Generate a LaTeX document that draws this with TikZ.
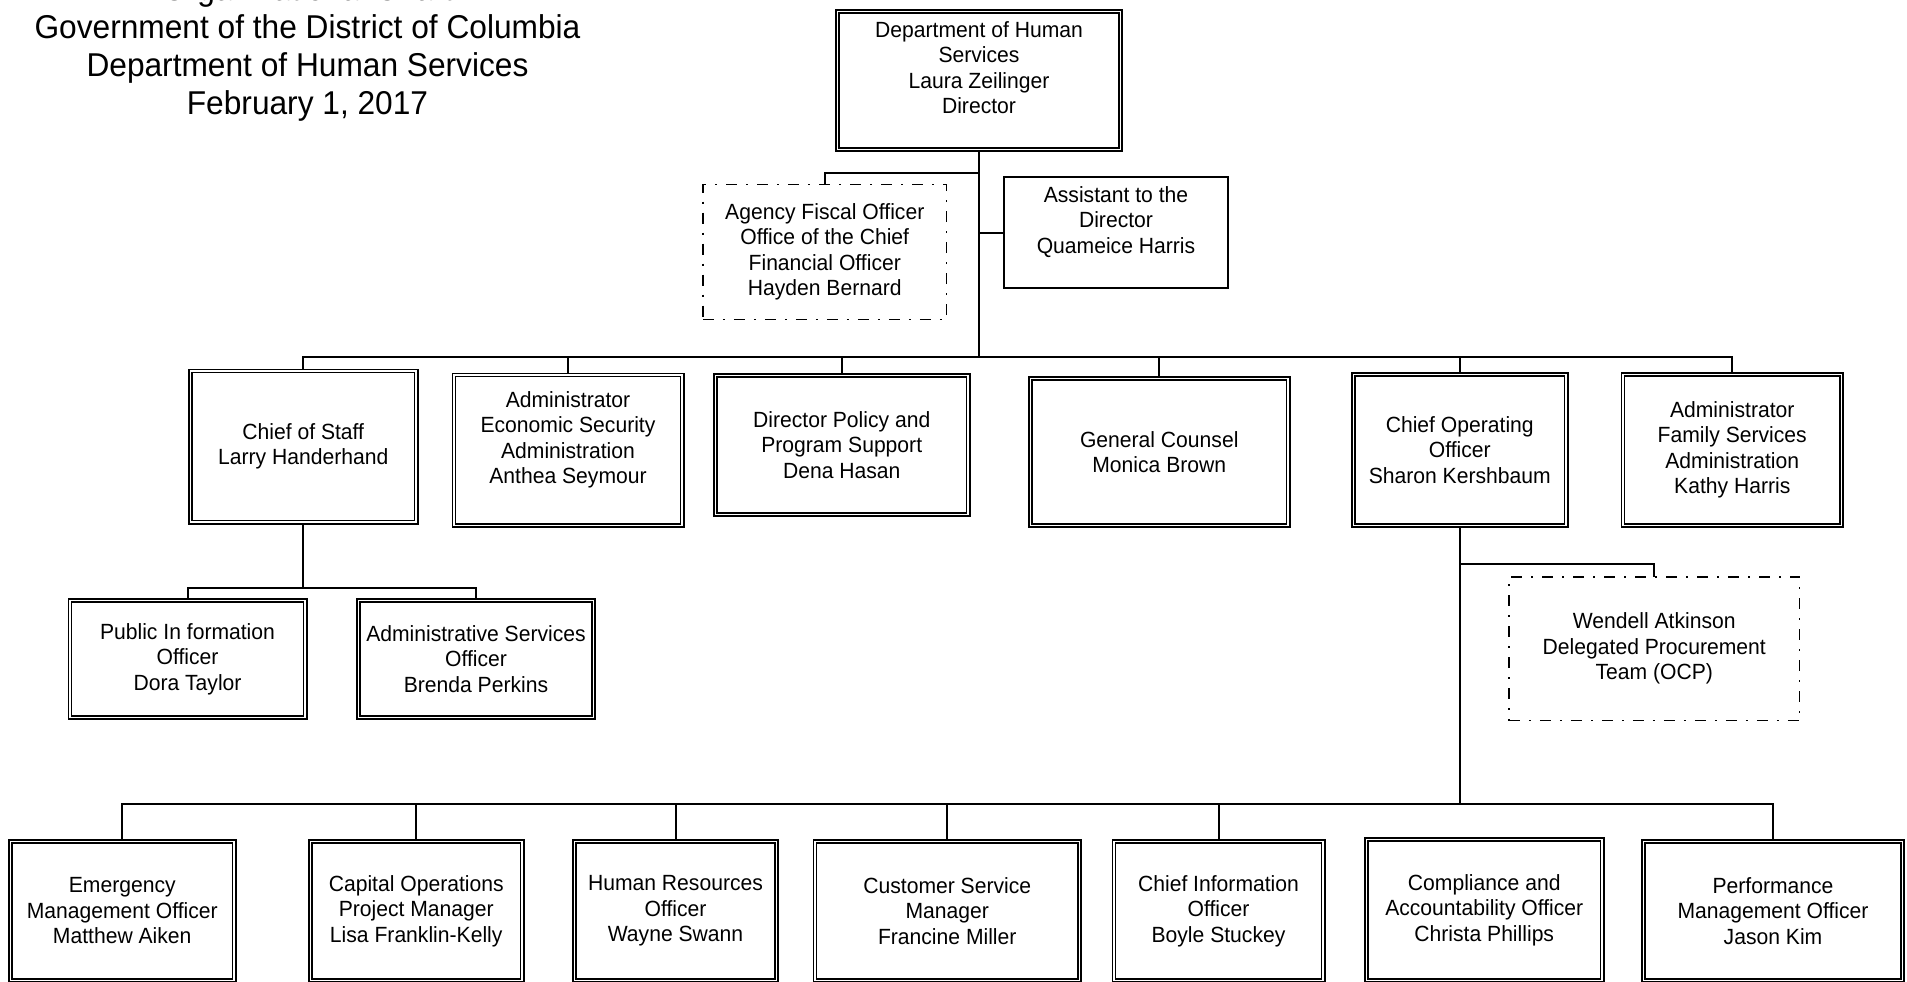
\documentclass[tikz,border=0pt]{standalone}
\usepackage{fontspec}
\setmainfont{Liberation Sans}[FakeStretch=0.96]
\usetikzlibrary{backgrounds}
\newcommand{\boxfont}{\fontsize{22pt}{25.5pt}\selectfont}
\newcommand{\titlefont}{\fontsize{33pt}{38pt}\selectfont}
\tikzset{
  conn/.style={line width=2pt, line cap=rect},
  boxbase/.style={fill=white, inner sep=0pt, align=center, font=\boxfont},
  dblbox/.style={boxbase, draw, double, line width=1.6pt, double distance=1.5pt},
  onebox/.style={boxbase, draw, line width=1.8pt},
  dashbox/.style={boxbase, draw, line width=1.4pt, dash pattern=on 11pt off 9pt on 2pt off 9pt},
}
\newcommand{\DblBox}[6]{\node[dblbox, minimum width={#4-#2-4.7}, minimum height={#5-#3-4.7}] (#1) at ({(#2+#4)/2},{(#3+#5)/2}) {#6};}
\newcommand{\LineBox}[7]{\node[#7, minimum width={#4-#2-1.6}, minimum height={#5-#3-1.6}] (#1) at ({(#2+#4)/2},{(#3+#5)/2}) {#6};}
\begin{document}
\begin{tikzpicture}[x=1pt,y=-1pt]
\useasboundingbox (0,0) rectangle (1907,982);
\clip (0,0) rectangle (1907,982);

% title
\node[font=\titlefont, align=center, inner sep=0pt] (title) at (307.5,49)
  {Organizational Chart\\Government of the District of Columbia\\Department of Human Services\\February 1, 2017};

% level 0 and staff
\DblBox{top}{835}{9}{1123}{152}{Department of Human\\Services\\Laura Zeilinger\\Director\\\mbox{}}
\LineBox{agency}{702}{183.5}{947.5}{320}{Agency Fiscal Officer\\Office of the Chief\\Financial Officer\\Hayden Bernard}{dashbox}
\LineBox{assist}{1003.5}{176.5}{1228.5}{289}{Assistant to the\\Director\\Quameice Harris\\\mbox{}}{onebox}

% level 1
\DblBox{cos}{188}{368.5}{418.5}{524.5}{Chief of Staff\\Larry Handerhand}
\DblBox{econ}{451.5}{372.5}{684.5}{528}{Administrator\\Economic Security\\Administration\\Anthea Seymour\\\mbox{}}
\DblBox{policy}{713}{373}{970.5}{517}{Director Policy and\\Program Support\\Dena Hasan}
\DblBox{gc}{1028}{376}{1290.5}{528}{General Counsel\\Monica Brown}
\DblBox{coo}{1351}{372}{1568.5}{528}{Chief Operating\\Officer\\Sharon Kershbaum}
\DblBox{family}{1620.5}{372}{1844}{528}{Administrator\\Family Services\\Administration\\Kathy Harris}

% under chief of staff
\DblBox{pio}{67.5}{598}{307.5}{720}{Public In formation\\Officer\\Dora Taylor}
\DblBox{aso}{356}{598}{596}{720}{Administrative Services\\Officer\\Brenda Perkins}

% under COO
\LineBox{wendell}{1508}{576}{1800.5}{721.5}{Wendell Atkinson\\Delegated Procurement\\Team (OCP)}{dashbox}
\DblBox{e1}{8}{839}{236.5}{983}{Emergency\\Management Officer\\Matthew Aiken}
\DblBox{e2}{308}{839}{524.5}{983}{Capital Operations\\Project Manager\\Lisa Franklin-Kelly}
\DblBox{e3}{572}{839}{779}{983}{Human Resources\\Officer\\Wayne Swann}
\DblBox{e4}{812.5}{839}{1082}{983}{Customer Service\\Manager\\Francine Miller}
\DblBox{e5}{1111.5}{839}{1325.5}{983}{Chief Information\\Officer\\Boyle Stuckey}
\DblBox{e6}{1364}{837}{1604.5}{983}{Compliance and\\Accountability Officer\\Christa Phillips}
\DblBox{e7}{1641}{839}{1905}{983}{Performance\\Management Officer\\Jason Kim}

% rails
\coordinate (busA) at (0,356.5);
\coordinate (busB) at (0,587.5);
\coordinate (busC) at (0,803.5);
\coordinate (tapF) at (0,172.5);
\coordinate (tapW) at (0,564);

\begin{scope}[on background layer]
  \fill[white] (0,0) rectangle (1907,982);
  \draw[conn] (top.south) -- (top.south |- busA);
  \draw[conn] (top.south |- tapF) -| (agency.north);
  \draw[conn] (assist.west) -- (assist.west -| top.south);
  \draw[conn] (cos.north |- busA) -- (family.north |- busA);
  \foreach \n in {cos,econ,policy,gc,coo,family}
    \draw[conn] (\n.north) -- (\n.north |- busA);
  \draw[conn] (cos.south) -- (cos.south |- busB);
  \draw[conn] (pio.north |- busB) -- (aso.north |- busB);
  \foreach \n in {pio,aso}
    \draw[conn] (\n.north) -- (\n.north |- busB);
  \draw[conn] (coo.south) -- (coo.south |- busC);
  \draw[conn] (coo.south |- tapW) -| (wendell.north);
  \draw[conn] (e1.north |- busC) -- (e7.north |- busC);
  \foreach \n in {e1,e2,e3,e4,e5,e7}
    \draw[conn] (\n.north) -- (\n.north |- busC);
\end{scope}
\end{tikzpicture}
\end{document}
